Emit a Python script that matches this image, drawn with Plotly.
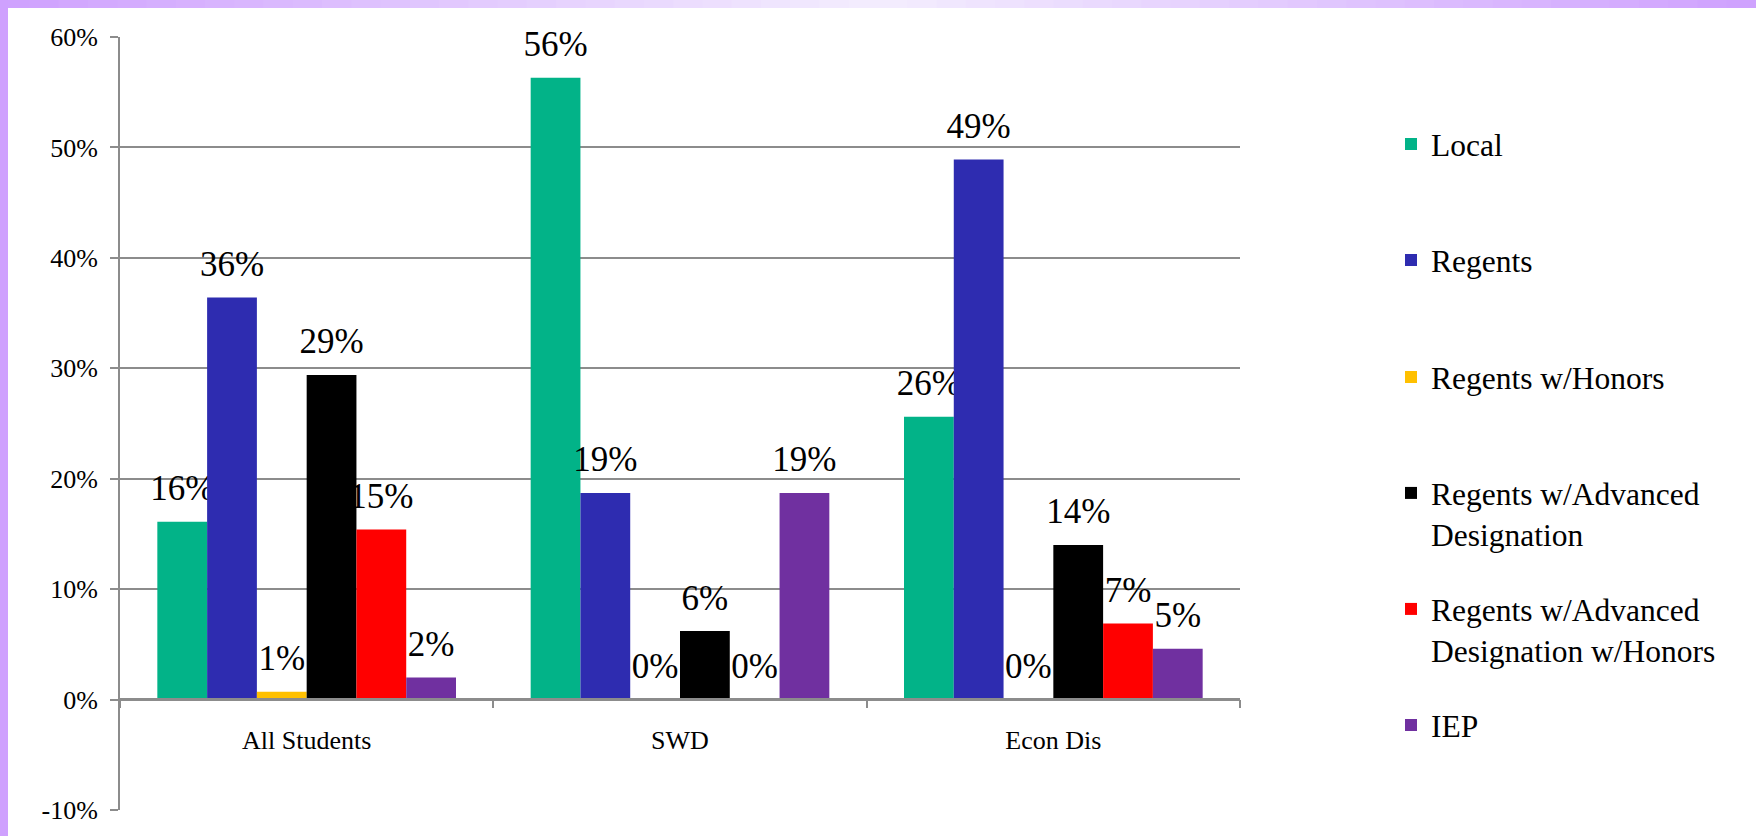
import plotly.graph_objects as go

categories = ["All Students", "SWD", "Econ Dis"]
series_names = [
    "Local",
    "Regents",
    "Regents w/Honors",
    "Regents w/Advanced<br>Designation",
    "Regents w/Advanced<br>Designation w/Honors",
    "IEP",
]
local = [0.161, 0.563, 0.256]
regents = [0.364, 0.187, 0.489]
regents_honors = [0.007, 0.0, 0.0]
regents_adv = [0.294, 0.062, 0.140]
regents_adv_honors = [0.154, 0.0, 0.069]
iep = [0.020, 0.187, 0.046]
series_values = [local, regents, regents_honors, regents_adv, regents_adv_honors, iep]
colors = ["#02B388", "#2E2CB0", "#FFC000", "#000000", "#FF0000", "#7030A0"]
y_tickvals = [-0.1, 0, 0.1, 0.2, 0.3, 0.4, 0.5, 0.6]
y_ticktext = ["-10%", "0%", "10%", "20%", "30%", "40%", "50%", "60%"]

W, H = 1756, 836
L, R, T, B = 120, 1240, 37, 810
FONT = "Liberation Serif, Times New Roman, Tinos, serif"
GRAY = "#8c8c8c"
LEGEND_CENTERS = [144, 260, 377, 493, 609, 725]


def px_x(p):
    return (p - L) / (R - L)


def px_y(p):
    return (B - p) / (B - T)


fig = go.Figure()
legends = {}
for i, (name, vals, col) in enumerate(zip(series_names, series_values, colors)):
    lines = name.split("<br>")
    # for two-line names, pad a blank first line so the swatch sits beside the first line
    legend_name = name if len(lines) == 1 else "\u00a0<br>" + name
    key = "legend" if i == 0 else "legend%d" % (i + 1)
    fig.add_trace(go.Bar(
        x=categories, y=vals, name=legend_name, legend=key,
        marker=dict(color=col, line=dict(width=0)),
        # big label plus a tiny blank line below it, which lifts the label off the bar a little
        texttemplate="<span style='font-size:35px'>%{y:.0%}</span><br>\u00a0",
        textposition="outside",
        textfont=dict(family=FONT, size=12, color="black"),
        constraintext="none", cliponaxis=False, textangle=0,
    ))
    legends[key] = dict(
        x=px_x(1391), xanchor="left", y=px_y(LEGEND_CENTERS[i]), yanchor="middle",
        font=dict(family=FONT, size=31.5, color="black"),
        bgcolor="rgba(0,0,0,0)", borderwidth=0,
    )

shapes = []
# top gradient band
n = 60
c_edge = (207, 161, 254)
c_mid = (244, 238, 254)
for i in range(n):
    x0 = W * i / n
    x1 = W * (i + 1) / n + 1
    t = abs(((x0 + x1) / 2) / W - 0.5) * 2
    c = tuple(int(c_mid[k] + (c_edge[k] - c_mid[k]) * t) for k in range(3))
    shapes.append(dict(type="rect", xref="paper", yref="paper", layer="above",
                       x0=px_x(x0), x1=px_x(x1), y0=px_y(8), y1=px_y(0),
                       fillcolor="rgb(%d,%d,%d)" % c, line=dict(width=0)))
# left band
shapes.append(dict(type="rect", xref="paper", yref="paper", layer="above",
                   x0=px_x(0), x1=px_x(8), y0=px_y(H), y1=px_y(0),
                   fillcolor="rgb(207,161,254)", line=dict(width=0)))

fig.update_layout(
    width=W, height=H,
    margin=dict(l=L, r=W - R, t=T, b=H - B, pad=0),
    paper_bgcolor="white", plot_bgcolor="white",
    barmode="group", bargap=0.2, bargroupgap=0,
    font=dict(family=FONT, color="black"),
    shapes=shapes,
    showlegend=True,
    xaxis=dict(
        type="category", anchor="free", position=px_y(699),
        showline=True, linecolor=GRAY, linewidth=2,
        ticks="outside", tickson="boundaries", ticklen=8, tickcolor=GRAY, tickwidth=2,
        tickfont=dict(family=FONT, size=26, color="black"),
        ticklabelstandoff=18, showgrid=False, automargin=False,
    ),
    yaxis=dict(
        range=[-0.1, 0.6], tickvals=y_tickvals, ticktext=y_ticktext,
        showline=True, linecolor=GRAY, linewidth=2,
        ticks="outside", ticklen=8, tickcolor=GRAY, tickwidth=2,
        showgrid=True, gridcolor=GRAY, gridwidth=2, zeroline=False,
        tickfont=dict(family=FONT, size=26, color="black"),
        ticklabelstandoff=7, automargin=False,
    ),
    **legends,
)

fig.write_html("out.html", config={"displayModeBar": False},
               post_script="document.body.style.margin='0';")
